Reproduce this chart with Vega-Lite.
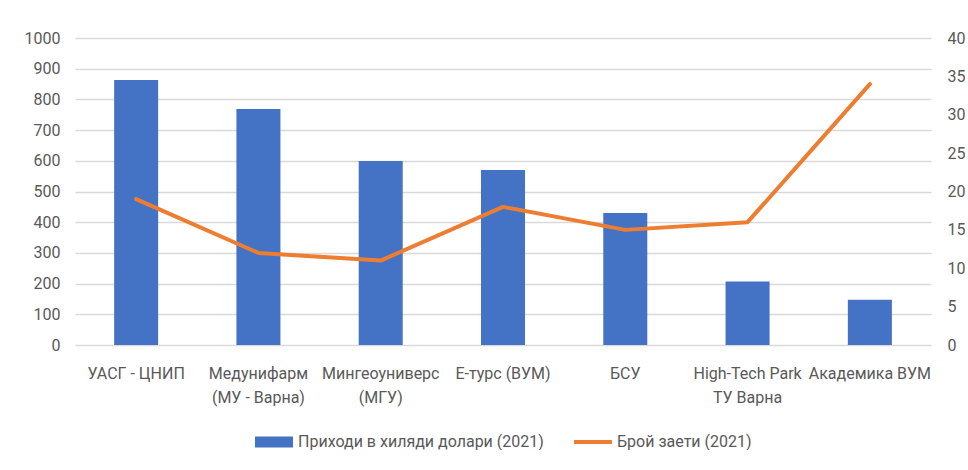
{
  "$schema": "https://vega.github.io/schema/vega-lite/v6.json",
  "width": 856,
  "height": 307,
  "padding": {"left": 24, "top": 30, "right": 0, "bottom": 0},
  "background": "white",
  "config": {
    "font": "Roboto",
    "view": {"stroke": null},
    "axis": {
      "labelFont": "Roboto",
      "labelFontSize": 16,
      "labelColor": "#595959",
      "domain": false,
      "ticks": false,
      "grid": false,
      "title": null
    },
    "legend": {
      "labelFont": "Roboto",
      "labelFontSize": 16,
      "labelColor": "#595959",
      "labelLimit": 400,
      "layout": {"bottom": {"anchor": "middle"}}
    }
  },
  "data": {
    "values": [
      {"org": "УАСГ - ЦНИП", "revenue": 863, "employees": 19},
      {"org": "Медунифарм\n(МУ - Варна)", "revenue": 769, "employees": 12},
      {"org": "Мингеоуниверс\n(МГУ)", "revenue": 599, "employees": 11},
      {"org": "Е-турс (ВУМ)", "revenue": 570, "employees": 18},
      {"org": "БСУ", "revenue": 430, "employees": 15},
      {"org": "High-Tech Park\nТУ Варна", "revenue": 207, "employees": 16},
      {"org": "Академика ВУМ", "revenue": 147, "employees": 34}
    ]
  },
  "encoding": {
    "x": {
      "field": "org",
      "type": "nominal",
      "sort": null,
      "scale": {"paddingInner": 0.64, "paddingOuter": 0.32},
      "axis": {
        "labelAngle": 0,
        "labelPadding": 20,
        "labelLineHeight": 24,
        "labelExpr": "split(datum.value, '\\n')"
      }
    }
  },
  "layer": [
    {
      "mark": {"type": "bar", "color": "#4472C4"},
      "encoding": {
        "y": {
          "field": "revenue",
          "type": "quantitative",
          "scale": {"domain": [0, 1000], "nice": false},
          "axis": {
            "orient": "left",
            "format": "d",
            "values": [0, 100, 200, 300, 400, 500, 600, 700, 800, 900, 1000],
            "grid": true,
            "gridColor": "#d9d9d9",
            "gridWidth": 1.5,
            "labelPadding": 15
          }
        },
        "color": {
          "datum": "Приходи в хиляди долари (2021)",
          "type": "nominal",
          "scale": {
            "domain": ["Приходи в хиляди долари (2021)", "Брой заети (2021)"],
            "range": ["#4472C4", "#ED7D31"]
          },
          "legend": {
            "orient": "bottom",
            "direction": "horizontal",
            "title": null,
            "symbolSize": 1444,
            "labelOffset": 5,
            "columnPadding": 30,
            "labelLimit": 400,
            "offset": 18,
            "encode": {
              "symbols": {
                "update": {
                  "shape": {"signal": "datum.value == 'Брой заети (2021)' ? 'M-1,-0.11H1V0.11H-1Z' : 'M-1,-0.29H1V0.29H-1Z'"},
                  "fill": {"signal": "datum.value == 'Брой заети (2021)' ? '#ED7D31' : '#4472C4'"},
                  "stroke": {"value": "transparent"},
                  "strokeWidth": {"value": 0},
                  "opacity": {"value": 1},
                  "fillOpacity": {"value": 1}
                }
              }
            }
          }
        }
      }
    },
    {
      "mark": {"type": "line", "color": "#ED7D31", "strokeWidth": 4, "strokeJoin": "round", "strokeCap": "round"},
      "encoding": {
        "x": {"field": "org", "type": "nominal", "sort": null, "bandPosition": 0.5},
        "y": {
          "field": "employees",
          "type": "quantitative",
          "scale": {"domain": [0, 40], "nice": false},
          "axis": {
            "orient": "right",
            "values": [0, 5, 10, 15, 20, 25, 30, 35, 40],
            "labelPadding": 16
          }
        },
        "color": {"datum": "Брой заети (2021)", "type": "nominal"}
      }
    }
  ],
  "resolve": {"scale": {"y": "independent"}}
}
